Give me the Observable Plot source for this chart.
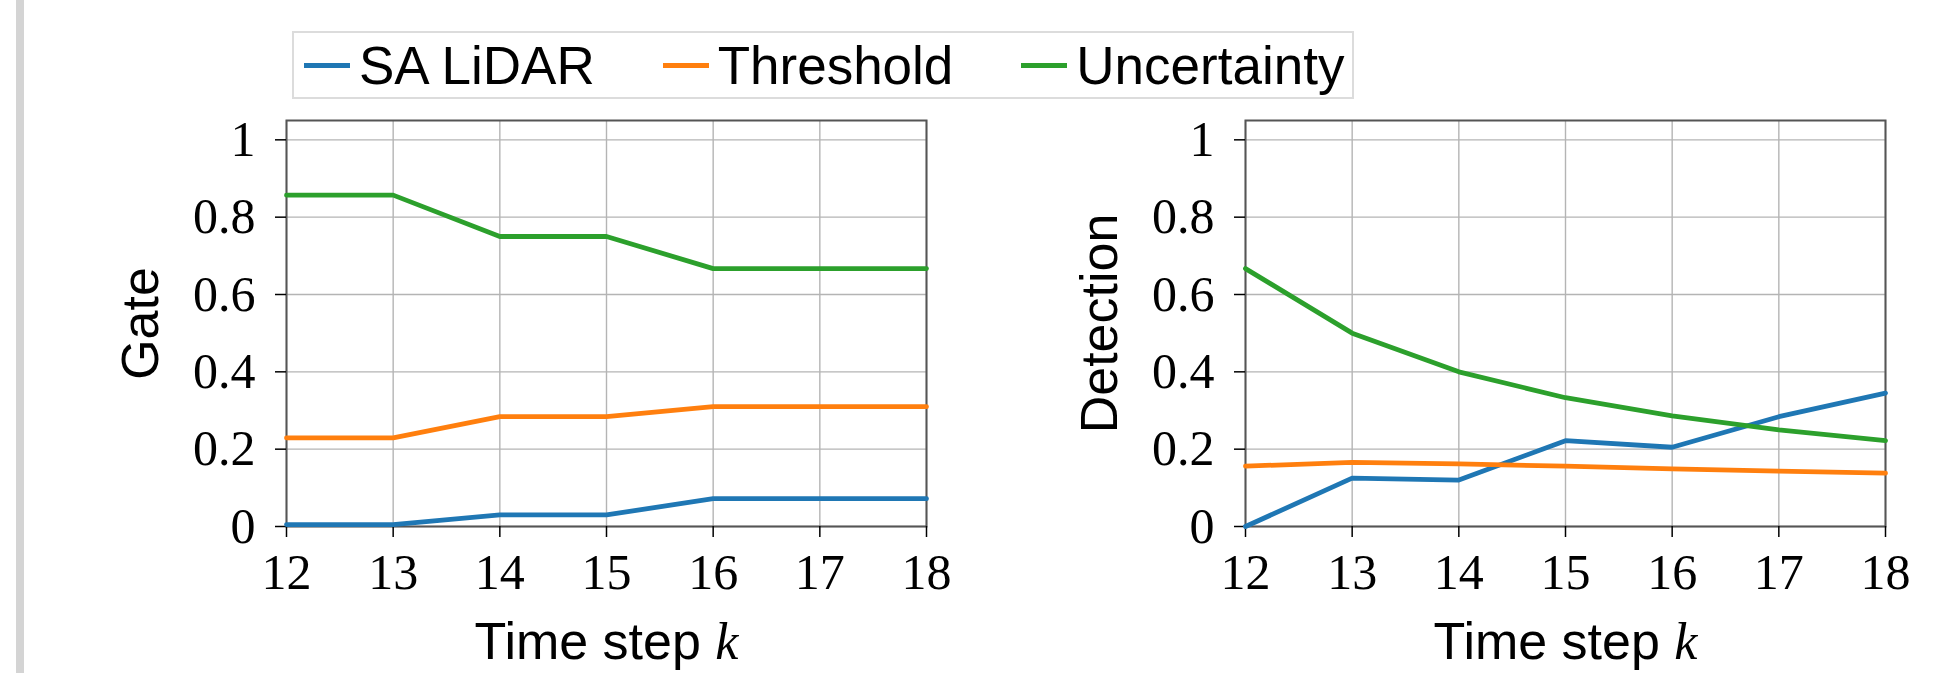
<!DOCTYPE html>
<html>
<head>
<meta charset="utf-8">
<script src="https://cdn.jsdelivr.net/npm/d3@7"></script>
<script src="https://cdn.jsdelivr.net/npm/@observablehq/plot@0.6"></script>
<style>
  html, body { margin: 0; padding: 0; background: #fff; }
  #page { position: relative; width: 1960px; height: 673px; overflow: hidden; background: #fff; }
  #bar { position: absolute; left: 16px; top: 0; width: 8px; height: 673px; background: #d4d4d4; }
  #legend { position: absolute; left: 292px; top: 31px; width: 1048px; height: 64px;
            border: 2px solid #dcdcdc; display: flex; align-items: center; padding-left: 10px; box-sizing: content-box;
            font-family: "Liberation Sans", Arial, sans-serif; font-size: 53px; color: #000; white-space: nowrap; }
  .item { display: flex; align-items: center; margin-right: 68px; white-space: nowrap; flex: none; }
  .swatch { width: 46px; height: 5px; margin-right: 9px; flex: none; }
  .chart { position: absolute; top: 100px; }
</style>
</head>
<body>
<div id="page">
  <div id="bar"></div>
  <div id="legend"></div>
  <div id="left" class="chart" style="left:0px"></div>
  <div id="right" class="chart" style="left:960px"></div>
</div>
<script>
// ---- data ----
const timeSteps = [12, 13, 14, 15, 16, 17, 18];
const seriesNames = ["SA LiDAR", "Threshold", "Uncertainty"];
const seriesColors = ["#1f77b4", "#ff7f0e", "#2ca02c"];

const gateSA = [0.005, 0.005, 0.030, 0.030, 0.072, 0.072, 0.072];
const gateThreshold = [0.229, 0.229, 0.284, 0.284, 0.310, 0.310, 0.310];
const gateUncertainty = [0.857, 0.857, 0.750, 0.750, 0.667, 0.667, 0.667];

const detSA = [0.0, 0.125, 0.120, 0.222, 0.205, 0.284, 0.345];
const detThreshold = [0.156, 0.166, 0.162, 0.156, 0.149, 0.143, 0.138];
const detUncertainty = [0.667, 0.500, 0.400, 0.333, 0.286, 0.250, 0.222];

const yTicks = [0, 0.2, 0.4, 0.6, 0.8, 1];
const yTickLabels = ["0", "0.2", "0.4", "0.6", "0.8", "1"];
const xTickLabels = ["12", "13", "14", "15", "16", "17", "18"];
const xLabel = "Time step";
const xLabelVar = "k";
const yLabels = ["Gate", "Detection"];

// ---- legend ----
const legend = document.getElementById("legend");
seriesNames.forEach((name, i) => {
  const item = document.createElement("div");
  item.className = "item";
  const sw = document.createElement("div");
  sw.className = "swatch";
  sw.style.background = seriesColors[i];
  const tx = document.createElement("span");
  tx.textContent = name;
  item.appendChild(sw);
  item.appendChild(tx);
  legend.appendChild(item);
});

function tidy(arrays) {
  const rows = [];
  arrays.forEach((vals, s) => {
    vals.forEach((v, i) => rows.push({ series: seriesNames[s], k: timeSteps[i], value: v }));
  });
  return rows;
}

function makeChart(rows, ylabel, width, marginLeft, marginRight) {
  const sans = "'Liberation Sans', Arial, sans-serif";
  const svg = Plot.plot({
    width,
    height: 573,
    marginLeft,
    marginRight,
    marginTop: 20,
    marginBottom: 147,
    style: { fontFamily: "'Liberation Serif', 'Times New Roman', serif", fontSize: "50px", color: "#000", background: "transparent", overflow: "visible" },
    x: { domain: [12, 18] },
    y: { domain: [0, 1.05] },
    color: { domain: seriesNames, range: seriesColors },
    marks: [
      Plot.ruleX(timeSteps, { stroke: "#b4b4b4", strokeWidth: 1.4 }),
      Plot.ruleY(yTicks, { stroke: "#b4b4b4", strokeWidth: 1.4 }),
      Plot.frame({ stroke: "#555", strokeWidth: 2 }),
      Plot.axisX(timeSteps, { tickSize: 11, tickPadding: 16, tickFormat: (d, i) => xTickLabels[i], label: null, stroke: "#000", strokeWidth: 1.5 }),
      Plot.axisY(yTicks, { tickSize: 11, tickPadding: 20, tickFormat: (d, i) => yTickLabels[i], label: null, stroke: "#000", strokeWidth: 1.5 }),
      Plot.line(rows, { x: "k", y: "value", stroke: "series", z: "series", strokeWidth: 4.8 }),
      Plot.text([ylabel], { text: d => d, frameAnchor: "left", dx: -145, rotate: -90, fontFamily: sans, fontSize: 52, textAnchor: "middle", lineAnchor: "middle" }),
      Plot.text([xLabel], { text: d => d, frameAnchor: "bottom", dy: 116, fontFamily: sans, fontSize: 52, textAnchor: "middle", lineAnchor: "middle", className: "xlabel" })
    ]
  });
  // Append the italic math variable to the x label
  d3.select(svg).selectAll(".xlabel text").each(function () {
    const t = d3.select(this);
    const base = t.text();
    t.text(base + " ");
    t.append("tspan").attr("font-family", "'Liberation Serif', serif").attr("font-style", "italic").text(xLabelVar);
  });
  return svg;
}

document.getElementById("left").appendChild(
  makeChart(tidy([gateSA, gateThreshold, gateUncertainty]), yLabels[0], 960, 286, 34)
);
document.getElementById("right").appendChild(
  makeChart(tidy([detSA, detThreshold, detUncertainty]), yLabels[1], 1000, 285, 75)
);
</script>
</body>
</html>
